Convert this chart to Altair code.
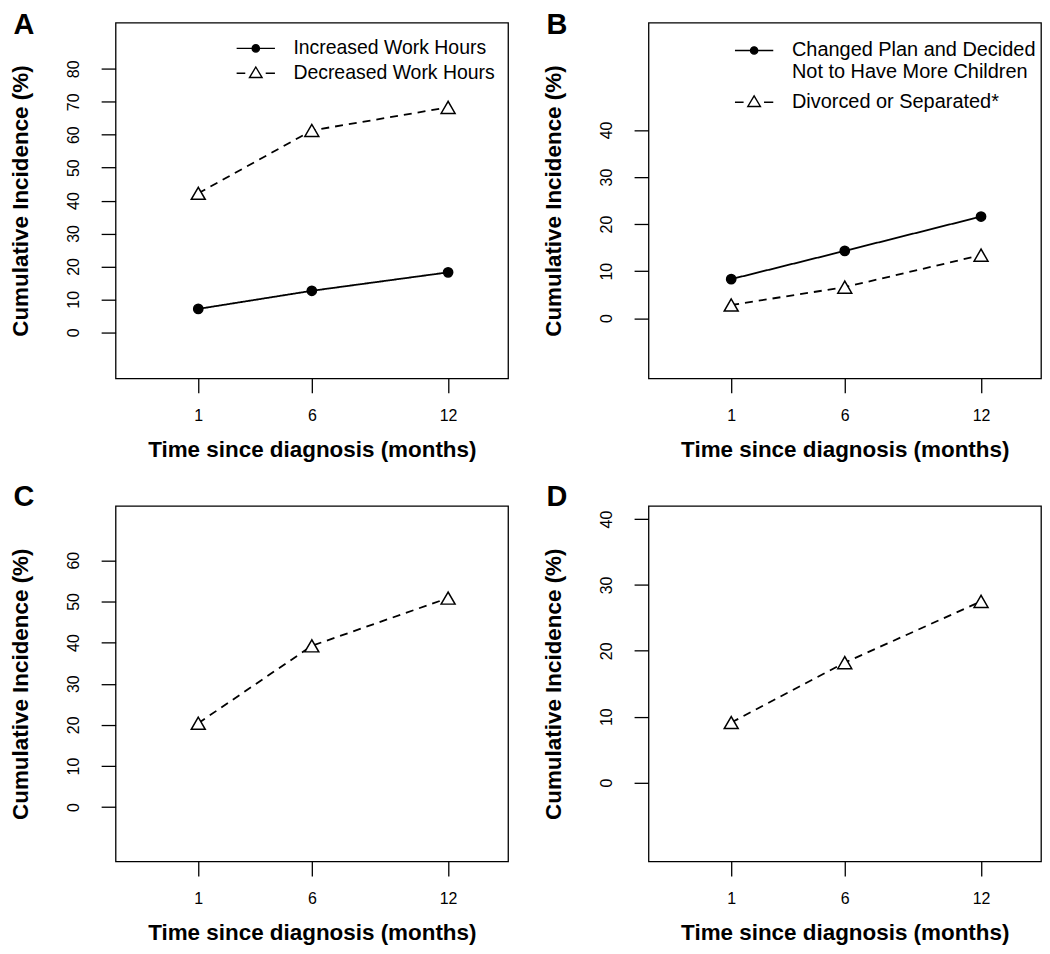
import altair as alt
import pandas as pd

# ---------------- data ----------------
months = [1, 6, 12]
x_ticks = [1, 6, 12]
x_domain = [-2.64, 14.64]

panel_letters = ["A", "B", "C", "D"]

a_labels = ["Increased Work Hours", "Decreased Work Hours"]
a_increased = [7.1, 12.6, 18.2]
a_decreased = [42.2, 61.3, 68.3]

b_labels = ["Changed Plan and Decided\nNot to Have More Children", "Divorced or Separated*"]
b_changed = [8.3, 14.3, 21.6]
b_divorced = [2.8, 6.6, 13.4]

c_labels = ["Panel C"]
c_values = [20.4, 39.2, 50.8]

d_labels = ["Panel D"]
d_values = [9.1, 18.2, 27.5]

a_y_ticks = [0, 10, 20, 30, 40, 50, 60, 70, 80]
b_y_ticks = [0, 10, 20, 30, 40]
c_y_ticks = [0, 10, 20, 30, 40, 50, 60]
d_y_ticks = [0, 10, 20, 30, 40]

a_y_domain = [-14, 94]
b_y_domain = [-12.8, 62.8]
c_y_domain = [-13.2, 73.2]
d_y_domain = [-12, 42]

x_title = "Time since diagnosis (months)"
y_title = "Cumulative Incidence (%)"

# ---------------- style ----------------
FONT = "Liberation Sans"
W, H = 394, 357
INK = "black"

SOLID = dict(
    dash=[1, 0], shape="circle", fill=INK, size=86,
    legend_path="M-2.22,0L2.22,0M0.42,0A0.42,0.42,0,1,1,-0.42,0A0.42,0.42,0,1,1,0.42,0Z",
    legend_fill=INK,
)
DASHED = dict(
    dash=[8, 6], shape="triangle-up", fill="white", size=196,
    legend_path="M-2.22,0L-1.22,0M1.15,0L2.22,0M0,-0.73L0.73,0.49L-0.73,0.49Z",
    legend_fill="white",
)


def frame(labels, series_values):
    rows = []
    for lab, vals in zip(labels, series_values):
        for m, v in zip(months, vals):
            rows.append({"month": m, "value": v, "series": lab})
    return pd.DataFrame(rows)


def x_axis():
    return alt.Axis(
        values=x_ticks, title=x_title, grid=False, domain=False,
        tickSize=14.5, tickWidth=1.3, tickColor=INK,
        labelFontSize=16, labelColor=INK, labelPadding=15,
        titleFontSize=22.5, titleFontWeight="bold", titleColor=INK, titlePadding=15,
    )


def y_axis(ticks):
    return alt.Axis(
        values=ticks, title=y_title, grid=False, domain=False,
        tickSize=14.5, tickWidth=1.3, tickColor=INK,
        labelFontSize=16, labelColor=INK, labelPadding=20,
        labelAngle=270, labelAlign="center", labelBaseline="bottom",
        titleFontSize=22.5, titleFontWeight="bold", titleColor=INK, titlePadding=33,
    )


def panel(letter, labels, values, styles, y_domain, y_ticks, letter_y, legend=None):
    xs = alt.Scale(domain=x_domain, nice=False, zero=False)
    x = alt.X("month:Q", scale=xs, axis=x_axis())
    y = alt.Y("value:Q", scale=alt.Scale(domain=y_domain, nice=False, zero=False), axis=y_axis(y_ticks))

    line_layers, point_layers = [], []
    for lab, vals, st in zip(labels, values, styles):
        sub = alt.Chart(frame([lab], [vals]))
        line_layers.append(
            sub.mark_line(color=INK, strokeWidth=1.8, strokeDash=st["dash"]).encode(x=x, y=y)
        )
        point_layers.append(
            sub.mark_point(shape=st["shape"], fill=st["fill"], stroke=INK, strokeWidth=1.5,
                           size=st["size"], opacity=1).encode(x=x, y=y)
        )
    layers = line_layers + point_layers

    if legend is not None:
        lg = alt.Legend(
            title=None, orient="none", legendX=legend["x"], legendY=legend["y"], padding=0,
            symbolSize=300, symbolStrokeWidth=1.4, symbolStrokeColor=INK, symbolOpacity=1,
            symbolOffset=10,
            labelFont=FONT, labelFontSize=legend["fs"], labelColor=INK, labelOffset=28,
            labelLimit=600, rowPadding=legend["pad"],
            labelExpr="split(datum.label, '\\n')",
        )
        leg = alt.Chart(frame(labels, values)).mark_point(strokeWidth=1.4, opacity=1).encode(
            x=x, y=y,
            shape=alt.Shape("series:N", scale=alt.Scale(domain=labels, range=[s["legend_path"] for s in styles]), legend=lg),
            fill=alt.Fill("series:N", scale=alt.Scale(domain=labels, range=[s["legend_fill"] for s in styles]), legend=lg),
            stroke=alt.Stroke("series:N", scale=alt.Scale(domain=labels, range=[INK for s in styles]), legend=lg),
        ).transform_filter("datum.month < 0")
        layers.append(leg)

    inner = alt.layer(*layers)

    # panel letter, drawn as the title of an empty top axis
    letter_layer = alt.Chart(frame(labels, values)).mark_point(opacity=0).encode(
        x=alt.X("month:Q", scale=xs, axis=alt.Axis(
            orient="top", title=letter, ticks=False, labels=False, domain=False, grid=False,
            titleX=-103, titleY=letter_y, titleAngle=0, titleAlign="left", titleBaseline="alphabetic",
            titleFontSize=29, titleFontWeight="bold", titleColor=INK, titleFont=FONT,
        )),
    ).transform_filter("datum.month < 0")

    return (
        alt.layer(inner, letter_layer)
        .resolve_scale(x="independent")
        .properties(width=W, height=H)
    )


pa = panel(panel_letters[0], a_labels, [a_increased, a_decreased], [SOLID, DASHED], a_y_domain, a_y_ticks, 11,
           legend=dict(x=121, y=16, fs=19.5, pad=4))
pb = panel(panel_letters[1], b_labels, [b_changed, b_divorced], [SOLID, DASHED], b_y_domain, b_y_ticks, 11,
           legend=dict(x=86, y=17.8, fs=20, pad=10))
pc = panel(panel_letters[2], c_labels, [c_values], [DASHED], c_y_domain, c_y_ticks, 0)
pd_ = panel(panel_letters[3], d_labels, [d_values], [DASHED], d_y_domain, d_y_ticks, 0)

indep = dict(shape="independent", fill="independent", stroke="independent")
row1 = alt.hconcat(pa, pb, spacing=32).resolve_scale(**indep)
row2 = alt.hconcat(pc, pd_, spacing=32).resolve_scale(**indep)
chart = (
    alt.vconcat(row1, row2, spacing=20)
    .resolve_scale(**indep)
    .properties(padding=0)
    .configure(font=FONT)
    .configure_view(stroke=INK, strokeWidth=1.3)
    .configure_axis(labelFont=FONT, titleFont=FONT)
)

chart.save("out.html", embed_options={"renderer": "svg", "actions": False})
